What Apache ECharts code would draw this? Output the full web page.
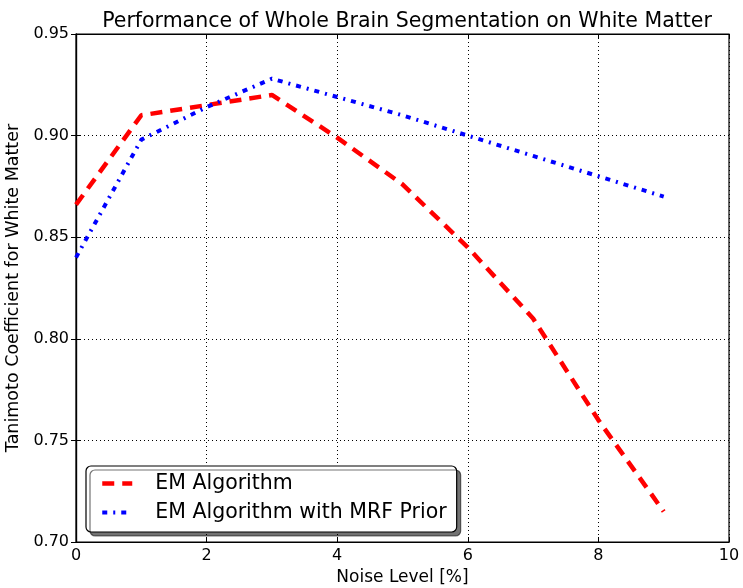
<!DOCTYPE html>
<html><head><meta charset="utf-8">
<script src="https://cdn.jsdelivr.net/npm/echarts@6/dist/echarts.min.js"></script>
<style>html,body{margin:0;padding:0;background:#fff}#c{width:743px;height:588px}</style>
</head><body><div id="c"></div>
<script>
const noiseLevels = [0, 1, 2, 3, 4, 5, 6, 7, 8, 9];
const emValues = [0.866, 0.910, 0.915, 0.920, 0.899, 0.876, 0.845, 0.810, 0.760, 0.715];
const emMrfValues = [0.840, 0.898, 0.914, 0.928, 0.919, 0.910, 0.900, 0.890, 0.880, 0.870];
const seriesNames = ['EM Algorithm', 'EM Algorithm with MRF Prior'];
const xTicks = [0, 2, 4, 6, 8, 10];
const yTicks = [0.70, 0.75, 0.80, 0.85, 0.90, 0.95];

const font = 'DejaVu Sans';
const chart = echarts.init(document.getElementById('c'), null, {renderer: 'canvas'});
const pair = (xs, ys) => xs.map((x, i) => [x, ys[i]]);
const tickStyle = {show: true, inside: true, length: 5, lineStyle: {color: '#000', width: 1}};
const redLine = {color: '#ff0000', width: 4.5, type: [12, 8], cap: 'butt'};
const blueLine = {color: '#0000ff', width: 4, type: [5, 6, 2, 6], cap: 'butt'};
chart.setOption({
  animation: false,
  backgroundColor: '#fff',
  textStyle: {fontFamily: font},
  title: {
    text: 'Performance of Whole Brain Segmentation on White Matter',
    left: 402, top: 6, textAlign: 'center',
    textStyle: {fontFamily: font, fontSize: 20.5, fontWeight: 'normal', color: '#000'}
  },
  grid: {left: 76, top: 34, right: 14, bottom: 46, containLabel: false, outerBoundsMode: 'none',
         show: true, borderColor: '#000', borderWidth: 1.2},
  legend: {
    orient: 'vertical', left: 86, top: 466,
    padding: [7, 10, 9, 14], itemGap: 8, itemWidth: 30, itemHeight: 14,
    backgroundColor: '#fff', borderColor: '#000', borderWidth: 1.2, borderRadius: 5,
    shadowColor: 'rgba(0,0,0,0.55)', shadowOffsetX: 4, shadowOffsetY: 4, shadowBlur: 0,
    itemStyle: {opacity: 0},
    textStyle: {fontFamily: font, fontSize: 20.5, color: '#000', padding: [0, 0, 0, 18]},
    data: [
      {name: seriesNames[0], lineStyle: redLine},
      {name: seriesNames[1], lineStyle: blueLine}
    ]
  },
  xAxis: [{
    type: 'value', min: 0, max: 10, interval: 2,
    name: 'Noise Level [%]', nameLocation: 'middle', nameGap: 27,
    nameTextStyle: {fontFamily: font, fontSize: 17, color: '#000'},
    axisLine: {show: true, lineStyle: {color: '#000', width: 1.2}},
    axisTick: tickStyle,
    axisLabel: {fontFamily: font, fontSize: 16, color: '#000', margin: 6},
    splitLine: {show: true, lineStyle: {color: '#000', type: [1, 3], width: 1}}
  }, {
    type: 'value', position: 'top', min: 0, max: 10, interval: 2,
    axisLine: {show: true, lineStyle: {color: '#000', width: 1.2}},
    axisTick: tickStyle, axisLabel: {show: false}, splitLine: {show: false}
  }],
  yAxis: [{
    type: 'value', min: 0.70, max: 0.95, interval: 0.05,
    name: 'Tanimoto Coefficient for White Matter', nameLocation: 'middle', nameGap: 52,
    nameTextStyle: {fontFamily: font, fontSize: 17.5, color: '#000'},
    axisLine: {show: true, lineStyle: {color: '#000', width: 1.2}},
    axisTick: tickStyle,
    axisLabel: {fontFamily: font, fontSize: 16, color: '#000', margin: 7, formatter: v => v.toFixed(2)},
    splitLine: {show: true, lineStyle: {color: '#000', type: [1, 3], width: 1}}
  }, {
    type: 'value', position: 'right', min: 0.70, max: 0.95, interval: 0.05,
    axisLine: {show: true, lineStyle: {color: '#000', width: 1.2}},
    axisTick: tickStyle, axisLabel: {show: false}, splitLine: {show: false}
  }],
  series: [{
    name: seriesNames[0], type: 'line', data: pair(noiseLevels, emValues),
    showSymbol: false, symbol: 'none', color: '#ff0000',
    lineStyle: redLine
  }, {
    name: seriesNames[1], type: 'line', data: pair(noiseLevels, emMrfValues),
    showSymbol: false, symbol: 'none', color: '#0000ff',
    lineStyle: blueLine
  }]
});
</script></body></html>
